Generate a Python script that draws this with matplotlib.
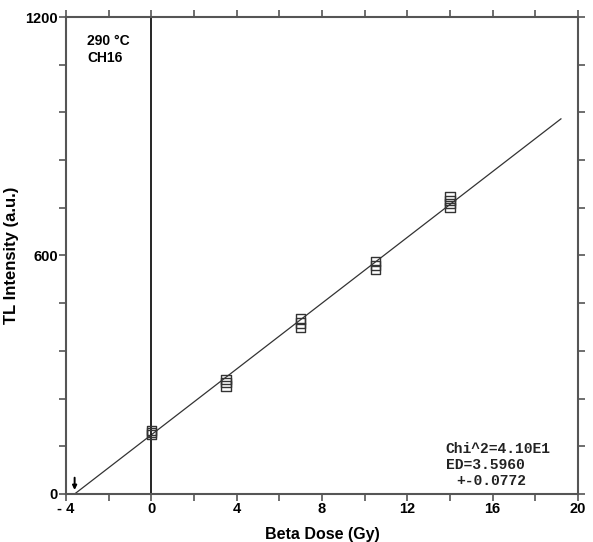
import matplotlib.pyplot as plt
import numpy as np

# dose points (Gy) and measured TL intensities
dose = [0, 0, 0, 3.5, 3.5, 3.5, 7, 7, 7, 10.5, 10.5, 10.5, 14, 14, 14, 14]
intensity = [150, 155, 160, 272, 280, 288, 418, 430, 440, 565, 575, 585, 720, 730, 738, 748]

# fitted line
fit_slope = 41.4
fit_intercept = 148.9
ed = 3.596
fit_xmax = 19.2

xticks = [-4, 0, 4, 8, 12, 16, 20]
xticklabels = ['- 4', '0', '4', '8', '12', '16', '20']
yticks = [0, 600, 1200]

plt.rcParams['font.family'] = ['Liberation Sans', 'DejaVu Sans']

fig = plt.figure(figsize=(5.93, 5.42), dpi=100)
ax = fig.add_axes([0.1113, 0.0886, 0.8634, 0.88])

xf = np.array([-ed, fit_xmax])
ax.plot(xf, fit_intercept + fit_slope * xf, color='#333333', lw=0.9)
ax.scatter(dose, intensity, marker='s', s=45, facecolors='none', edgecolors='#333333', linewidths=1.0, zorder=3)
ax.axvline(0, color='black', lw=1.2)

# arrow marking the equivalent dose
ax.annotate('', xy=(-ed, 3), xytext=(-ed, 48),
            arrowprops=dict(arrowstyle='-|>', color='black', lw=1.4, mutation_scale=6))

ax.set_xlim(-4, 20)
ax.set_ylim(0, 1200)
ax.set_xticks(xticks)
ax.set_xticklabels(xticklabels, fontweight='bold', fontsize=10.5)
ax.set_xticks(np.arange(-4, 21, 2), minor=True)
ax.set_yticks(yticks)
ax.set_yticklabels([str(v) for v in yticks], fontweight='bold', fontsize=10.5)
ax.set_yticks(np.arange(0, 1201, 120), minor=True)

ax.tick_params(which='both', direction='out', length=5, width=1.2, color='#555555',
               top=True, right=True, pad=1)
for s in ax.spines.values():
    s.set_linewidth(1.5)
    s.set_color('#555555')

ax.set_xlabel('Beta Dose (Gy)', fontweight='bold', fontsize=11.5, labelpad=8)
ax.set_ylabel('TL Intensity (a.u.)', fontweight='bold', fontsize=12, labelpad=4)

ax.text(-3.0, 1130, '290 °C', fontweight='bold', fontsize=10, va='baseline')
ax.text(-3.0, 1087, 'CH16', fontweight='bold', fontsize=10, va='baseline')

mono = dict(family='Liberation Mono', fontweight='bold', fontsize=10.5, va='baseline', color='#222222')
ax.text(13.8, 102, 'Chi^2=4.10E1', **mono)
ax.text(13.8, 62, 'ED=3.5960', **mono)
ax.text(14.3, 22, '+-0.0772', **mono)

fig.savefig('out.png', dpi=100)
